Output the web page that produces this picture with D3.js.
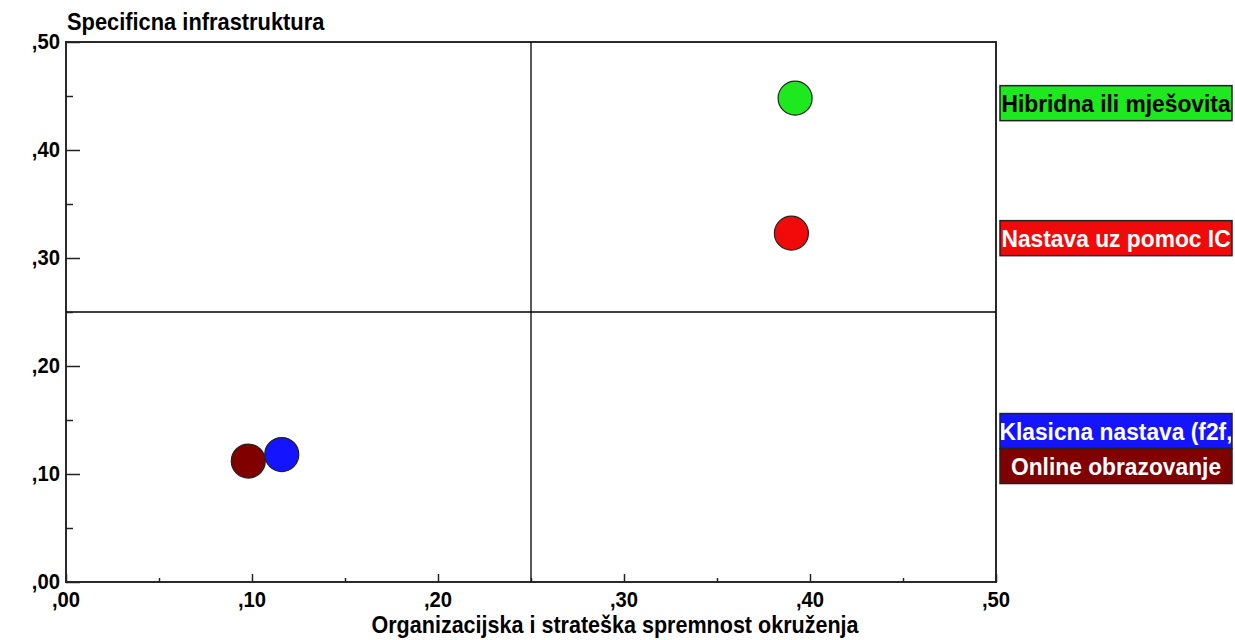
<!DOCTYPE html>
<html>
<head>
<meta charset="utf-8">
<script src="https://cdn.jsdelivr.net/npm/d3@7"></script>
<style>
  body { margin: 0; background: #fff; }
  text { font-family: "Liberation Sans", Arial, sans-serif; font-weight: bold; }
</style>
</head>
<body>
<div id="chart"></div>
<script>
// groups shown in the legend (labels as visible in the box)
var labels = ["Hibridna ili mješovita", "Nastava uz pomoc IC", "Klasicna nastava (f2f,", "Online obrazovanje"];
var xValues = [0.392, 0.390, 0.116, 0.098];   // Organizacijska i strateška spremnost
var yValues = [0.448, 0.323, 0.118, 0.112];   // Specificna infrastruktura
var colors = ["#1ee81e", "#f00a0a", "#1414ff", "#800000"];
var textColors = ["#000", "#fff", "#fff", "#fff"];
var majorTicks = [0, 0.1, 0.2, 0.3, 0.4, 0.5];
var minorTicks = [0.05, 0.15, 0.25, 0.35, 0.45];
var tickLabels = [",00", ",10", ",20", ",30", ",40", ",50"];
var midValue = 0.25;

var width = 1235, height = 640;
var x = d3.scaleLinear().domain([0, 0.5]).range([66, 996]);
var y = d3.scaleLinear().domain([0, 0.5]).range([582, 42]);

var svg = d3.select("#chart").append("svg")
    .attr("width", width)
    .attr("height", height);

// narrow-looking text: squeeze horizontally around its anchor
function squeeze(sel, sx, fx, fy) {
    sel.attr("transform", function(d, i) {
        return "translate(" + fx(d, i) + "," + fy(d, i) + ") scale(" + sx + ",1)";
    });
}

// plot frame
svg.append("rect")
    .attr("x", x(0)).attr("y", y(0.5))
    .attr("width", x(0.5) - x(0)).attr("height", y(0) - y(0.5))
    .attr("fill", "none").attr("stroke", "#2a2a2a").attr("stroke-width", 2);

// quadrant lines
svg.append("line")
    .attr("x1", x(midValue)).attr("x2", x(midValue))
    .attr("y1", y(0.5)).attr("y2", y(0))
    .attr("stroke", "#000").attr("stroke-width", 1.3);
svg.append("line")
    .attr("x1", x(0)).attr("x2", x(0.5))
    .attr("y1", y(midValue)).attr("y2", y(midValue))
    .attr("stroke", "#000").attr("stroke-width", 1.3);

// ticks (inward)
var xAxis = d3.axisTop(x).tickValues(majorTicks).tickSize(8).tickFormat("");
var xAxisMinor = d3.axisTop(x).tickValues(minorTicks).tickSize(4).tickFormat("");
var yAxis = d3.axisRight(y).tickValues(majorTicks).tickSize(14).tickFormat("");
var yAxisMinor = d3.axisRight(y).tickValues(minorTicks).tickSize(7).tickFormat("");

[xAxis, xAxisMinor].forEach(function(a) {
    var g = svg.append("g").attr("transform", "translate(0," + y(0) + ")").call(a);
    g.select(".domain").remove();
    g.selectAll("line").attr("stroke", "#222").attr("stroke-width", 1.5);
});
[yAxis, yAxisMinor].forEach(function(a) {
    var g = svg.append("g").attr("transform", "translate(" + x(0) + ",0)").call(a);
    g.select(".domain").remove();
    g.selectAll("line").attr("stroke", "#222").attr("stroke-width", 1.5);
});

// tick labels
svg.selectAll("text.xlab")
    .data(majorTicks)
    .enter().append("text")
    .attr("class", "xlab")
    .attr("text-anchor", "middle")
    .style("font-size", "22px")
    .text(function(d, i) { return tickLabels[i]; })
    .call(squeeze, 0.92, function(d) { return x(d); }, function() { return y(0) + 25; });

svg.selectAll("text.ylab")
    .data(majorTicks)
    .enter().append("text")
    .attr("class", "ylab")
    .attr("dy", "0.35em")
    .attr("text-anchor", "end")
    .style("font-size", "22px")
    .text(function(d, i) { return tickLabels[i]; })
    .call(squeeze, 0.92, function() { return 60; }, function(d) { return y(d) - 1; });

// axis titles
svg.append("text")
    .style("font-size", "23px")
    .text("Specificna infrastruktura")
    .call(squeeze, 0.95, function() { return 67; }, function() { return 30; });
svg.append("text")
    .attr("text-anchor", "middle")
    .style("font-size", "23px")
    .text("Organizacijska i strateška spremnost okruženja")
    .call(squeeze, 0.937, function() { return 615; }, function() { return 633; });

// points (drawn from last to first so blue sits over dark red)
var points = labels.map(function(l, i) {
    return { label: l, x: xValues[i], y: yValues[i], color: colors[i], text: textColors[i] };
});

svg.selectAll("circle.pt")
    .data(points.slice().reverse())
    .enter().append("circle")
    .attr("class", "pt")
    .attr("cx", function(d) { return x(d.x); })
    .attr("cy", function(d) { return y(d.y); })
    .attr("r", 17)
    .attr("fill", function(d) { return d.color; })
    .attr("stroke", "#222")
    .attr("stroke-width", 1.2);

// legend boxes placed near each point's height, pushed up when they overlap
var boxH = 35, boxX = 1000, boxW = 232;
var placed = points.slice().sort(function(a, b) { return a.y - b.y; });
var prevTop = Infinity;
placed.forEach(function(d) {
    var top = y(d.y) + 5 - boxH / 2;
    if (top + boxH > prevTop) top = prevTop - boxH;
    d.boxTop = top;
    prevTop = top;
});

var defs = svg.append("defs");
points.forEach(function(d, i) {
    defs.append("clipPath").attr("id", "clip" + i)
        .append("rect")
        .attr("x", boxX + 1).attr("y", d.boxTop)
        .attr("width", boxW - 2).attr("height", boxH);
});

var legend = svg.selectAll("g.leg")
    .data(points)
    .enter().append("g")
    .attr("class", "leg");

legend.append("rect")
    .attr("x", boxX)
    .attr("y", function(d) { return d.boxTop; })
    .attr("width", boxW)
    .attr("height", boxH)
    .attr("fill", function(d) { return d.color; })
    .attr("stroke", "#222")
    .attr("stroke-width", 1.5);

legend.append("g")
    .attr("clip-path", function(d, i) { return "url(#clip" + i + ")"; })
    .append("text")
    .attr("dy", "0.36em")
    .attr("text-anchor", "middle")
    .attr("fill", function(d) { return d.text; })
    .style("font-size", "24px")
    .text(function(d) { return d.label; })
    .call(squeeze, 0.95, function() { return boxX + boxW / 2; }, function(d) { return d.boxTop + boxH / 2; });
</script>
</body>
</html>
